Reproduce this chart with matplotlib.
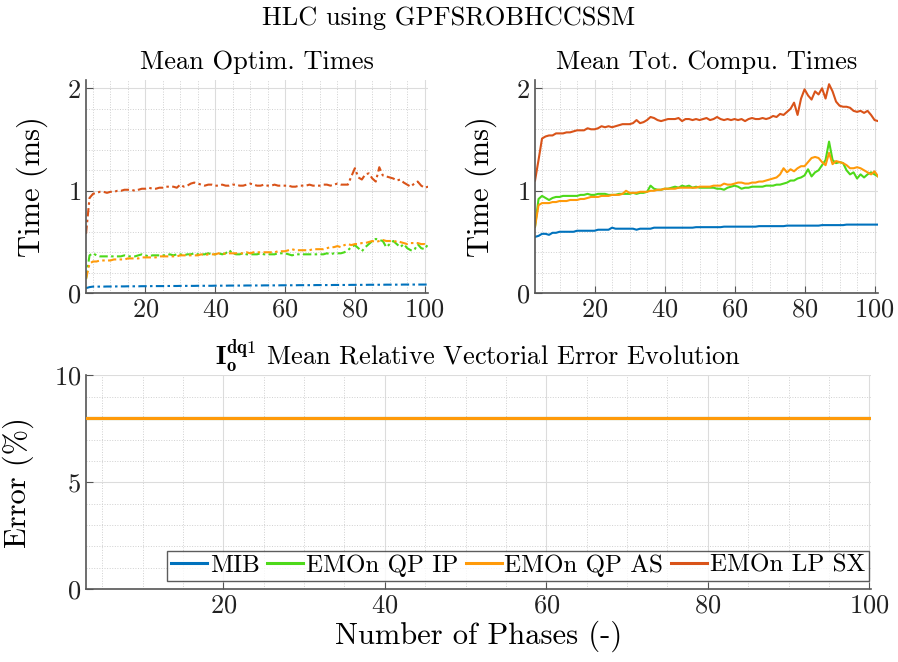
import matplotlib
matplotlib.use("Agg")
from matplotlib import pyplot as plt
from matplotlib.ticker import MultipleLocator
import numpy as np

plt.rcParams['font.family'] = 'serif'
plt.rcParams['font.serif'] = ['cmr10']
plt.rcParams['mathtext.fontset'] = 'cm'
plt.rcParams['axes.formatter.use_mathtext'] = True

phases = list(range(3, 102))
labels = ['MIB', 'EMOn QP IP', 'EMOn QP AS', 'EMOn LP SX']
colors = ['#0072BD', '#4DD91A', '#FF9A0A', '#D95319']

# mean optimisation times (ms)
optim_mib = [0.05, 0.06, 0.065, 0.065, 0.065, 0.065, 0.066, 0.066, 0.066, 0.067,
             0.067, 0.067, 0.068, 0.068, 0.068, 0.068, 0.069, 0.069, 0.069, 0.07,
             0.07, 0.07, 0.07, 0.071, 0.071, 0.071, 0.071, 0.072, 0.072, 0.072,
             0.072, 0.072, 0.073, 0.073, 0.073, 0.073, 0.073, 0.074, 0.074, 0.074,
             0.074, 0.075, 0.075, 0.075, 0.075, 0.075, 0.076, 0.076, 0.076, 0.076,
             0.076, 0.077, 0.077, 0.077, 0.077, 0.077, 0.078, 0.078, 0.078, 0.078,
             0.078, 0.079, 0.079, 0.079, 0.079, 0.079, 0.08, 0.08, 0.08, 0.08,
             0.08, 0.081, 0.081, 0.081, 0.081, 0.081, 0.082, 0.082, 0.082, 0.082,
             0.082, 0.083, 0.083, 0.083, 0.083, 0.083, 0.084, 0.084, 0.084, 0.084,
             0.084, 0.085, 0.085, 0.085, 0.085, 0.085, 0.085, 0.085, 0.085]
optim_ip = [0.14, 0.37, 0.39, 0.37, 0.36, 0.36, 0.36, 0.36, 0.36, 0.36,
            0.36, 0.37, 0.36, 0.36, 0.36, 0.37, 0.38, 0.37,
            0.36, 0.37, 0.37, 0.37, 0.37, 0.37, 0.38, 0.37, 0.38, 0.38,
            0.37, 0.38, 0.38, 0.39, 0.38, 0.38, 0.38, 0.39, 0.38, 0.38,
            0.39, 0.38, 0.39, 0.42, 0.39, 0.38, 0.38, 0.39, 0.38, 0.38,
            0.38, 0.38, 0.39, 0.38, 0.38, 0.38, 0.38, 0.39, 0.39, 0.39,
            0.38, 0.37, 0.38, 0.38, 0.38, 0.38, 0.38, 0.38, 0.38, 0.38,
            0.38, 0.39, 0.38, 0.39, 0.39, 0.39, 0.40, 0.42, 0.45, 0.47,
            0.44, 0.41, 0.45, 0.48, 0.51, 0.53, 0.52, 0.51, 0.45, 0.48,
            0.51, 0.48, 0.45, 0.48, 0.44, 0.42, 0.42, 0.48, 0.44, 0.43, 0.48]
optim_as = [0.14, 0.29, 0.31, 0.31, 0.32, 0.32, 0.32, 0.32, 0.33, 0.33,
            0.33, 0.33, 0.34, 0.34, 0.34, 0.34, 0.35, 0.35,
            0.35, 0.35, 0.35, 0.36, 0.36, 0.36, 0.36, 0.36, 0.36, 0.37,
            0.37, 0.37, 0.37, 0.37, 0.37, 0.38, 0.37, 0.38, 0.38, 0.38,
            0.39, 0.38, 0.39, 0.39, 0.39, 0.39, 0.39, 0.39, 0.40, 0.39,
            0.40, 0.40, 0.40, 0.40, 0.40, 0.40, 0.40, 0.41, 0.41, 0.41,
            0.42, 0.43, 0.42, 0.42, 0.42, 0.42, 0.42, 0.43, 0.43, 0.43,
            0.43, 0.44, 0.45, 0.45, 0.46, 0.45, 0.47, 0.48, 0.47, 0.48,
            0.48, 0.49, 0.49, 0.50, 0.51, 0.50, 0.51, 0.52, 0.51, 0.51,
            0.50, 0.51, 0.50, 0.49, 0.48, 0.49, 0.49, 0.49, 0.48, 0.48, 0.47]
optim_sx = [0.58, 0.93, 0.97, 0.98, 0.99, 0.99, 0.98, 0.99, 0.99, 1.00,
            1.00, 1.01, 1.01, 1.01, 1.00, 1.01, 1.02, 1.02,
            1.03, 1.02, 1.02, 1.03, 1.03, 1.04, 1.04, 1.04, 1.03, 1.06,
            1.04, 1.05, 1.07, 1.08, 1.07, 1.06, 1.05, 1.06, 1.06, 1.05,
            1.05, 1.06, 1.05, 1.05, 1.06, 1.06, 1.05, 1.05, 1.06, 1.07,
            1.06, 1.05, 1.05, 1.06, 1.05, 1.05, 1.06, 1.05, 1.05, 1.05,
            1.05, 1.04, 1.04, 1.05, 1.05, 1.05, 1.06, 1.05, 1.05, 1.05,
            1.06, 1.06, 1.05, 1.06, 1.07, 1.06, 1.06, 1.06, 1.14, 1.22,
            1.13, 1.11, 1.16, 1.17, 1.12, 1.09, 1.23, 1.15, 1.14, 1.13,
            1.12, 1.10, 1.11, 1.08, 1.06, 1.04, 1.07, 1.09, 1.05, 1.03, 1.04]

# mean total computation times (ms)
total_mib = [0.55, 0.56, 0.58, 0.58, 0.57, 0.59, 0.59, 0.60, 0.60, 0.60,
             0.60, 0.60, 0.61, 0.61, 0.61, 0.61, 0.61, 0.61,
             0.62, 0.62, 0.62, 0.62, 0.64, 0.63, 0.63, 0.63, 0.63, 0.63,
             0.63, 0.62, 0.63, 0.63, 0.63, 0.63, 0.64, 0.64, 0.64, 0.64,
             0.64, 0.64, 0.64, 0.64, 0.64, 0.64, 0.64, 0.64, 0.645, 0.645,
             0.645, 0.645, 0.645, 0.645, 0.645, 0.645, 0.65, 0.65, 0.65, 0.65,
             0.65, 0.65, 0.65, 0.65, 0.65, 0.65, 0.655, 0.655, 0.655, 0.655,
             0.655, 0.655, 0.655, 0.655, 0.66, 0.66, 0.66, 0.66, 0.66, 0.66,
             0.66, 0.66, 0.66, 0.66, 0.665, 0.665, 0.665, 0.665, 0.665, 0.665,
             0.665, 0.67, 0.67, 0.67, 0.67, 0.67, 0.67, 0.67, 0.67, 0.67, 0.67]
total_ip = [0.65, 0.92, 0.95, 0.93, 0.91, 0.93, 0.94, 0.94, 0.95, 0.95,
            0.95, 0.95, 0.95, 0.96, 0.96, 0.97, 0.96, 0.96,
            0.97, 0.97, 0.97, 0.96, 0.96, 0.96, 0.97, 0.97, 0.97, 0.97,
            0.98, 0.97, 0.98, 0.98, 0.99, 1.05, 1.02, 1.01, 1.01, 1.02,
            1.02, 1.03, 1.04, 1.03, 1.05, 1.04, 1.05, 1.03, 1.04, 1.03,
            1.03, 1.03, 1.03, 1.03, 1.02, 1.02, 1.01, 1.03, 1.04, 1.05,
            1.04, 1.02, 1.03, 1.03, 1.04, 1.04, 1.04, 1.04, 1.05, 1.05,
            1.05, 1.06, 1.06, 1.07, 1.08, 1.10, 1.10, 1.12, 1.13, 1.15,
            1.21, 1.14, 1.18, 1.20, 1.25, 1.30, 1.48, 1.30, 1.27, 1.28,
            1.27, 1.20, 1.16, 1.18, 1.12, 1.16, 1.13, 1.16, 1.18, 1.16, 1.14]
total_as = [0.65, 0.86, 0.88, 0.88, 0.88, 0.89, 0.89, 0.90, 0.90, 0.90,
            0.91, 0.91, 0.91, 0.92, 0.92, 0.93, 0.94, 0.94,
            0.94, 0.95, 0.95, 0.95, 0.96, 0.96, 0.96, 0.97, 1.00, 0.98,
            0.98, 0.98, 0.99, 0.99, 0.99, 1.00, 1.00, 1.01, 1.01, 1.02,
            1.02, 1.02, 1.02, 1.03, 1.03, 1.03, 1.03, 1.03, 1.03, 1.04,
            1.04, 1.04, 1.04, 1.05, 1.05, 1.05, 1.07, 1.06, 1.06, 1.07,
            1.08, 1.08, 1.07, 1.07, 1.08, 1.08, 1.09, 1.09, 1.10, 1.11,
            1.12, 1.13, 1.16, 1.22, 1.18, 1.21, 1.19, 1.22, 1.24, 1.24,
            1.28, 1.32, 1.33, 1.32, 1.28, 1.25, 1.37, 1.26, 1.29, 1.28,
            1.27, 1.25, 1.22, 1.22, 1.23, 1.22, 1.20, 1.18, 1.16, 1.19, 1.14]
total_sx = [1.10, 1.30, 1.51, 1.53, 1.54, 1.54, 1.56, 1.56, 1.56, 1.57,
            1.57, 1.58, 1.59, 1.59, 1.59, 1.61, 1.60, 1.60,
            1.61, 1.63, 1.62, 1.63, 1.62, 1.63, 1.64, 1.65, 1.65, 1.65,
            1.66, 1.69, 1.66, 1.67, 1.69, 1.72, 1.71, 1.69, 1.68, 1.69,
            1.70, 1.70, 1.70, 1.71, 1.68, 1.70, 1.70, 1.69, 1.70, 1.69,
            1.70, 1.71, 1.69, 1.70, 1.72, 1.70, 1.69, 1.70, 1.69, 1.70,
            1.69, 1.70, 1.68, 1.70, 1.71, 1.70, 1.70, 1.71, 1.70, 1.71,
            1.73, 1.72, 1.75, 1.74, 1.77, 1.80, 1.86, 1.74, 1.90, 1.99,
            1.93, 1.89, 1.97, 1.94, 2.00, 1.90, 2.04, 1.97, 1.87, 1.83,
            1.82, 1.82, 1.81, 1.78, 1.77, 1.78, 1.76, 1.78, 1.74, 1.69, 1.68]

# mean relative vectorial error (%)
err_mib = [8.0] * len(phases)
err_ip = [8.0] * len(phases)
err_as = [8.0] * len(phases)
err_sx = [8.0] * len(phases)

optim = [optim_mib, optim_ip, optim_as, optim_sx]
total = [total_mib, total_ip, total_as, total_sx]
error = [err_mib, err_ip, err_as, err_sx]


def style_axis(ax, ymax, ymajor, yminor, xmax):
    ax.set_xlim(3, xmax)
    ax.set_ylim(0, ymax)
    ax.xaxis.set_major_locator(MultipleLocator(20))
    ax.xaxis.set_minor_locator(MultipleLocator(5))
    ax.yaxis.set_major_locator(MultipleLocator(ymajor))
    ax.yaxis.set_minor_locator(MultipleLocator(yminor))
    ax.grid(which='major', color='#dcdcdc', linewidth=0.8)
    ax.grid(which='minor', color='#d0d0d0', linestyle=':', linewidth=0.7)
    ax.set_axisbelow(True)
    ax.spines['top'].set_visible(False)
    ax.spines['right'].set_visible(False)
    ax.spines['left'].set_color('#555555')
    ax.spines['bottom'].set_color('#555555')
    ax.spines['left'].set_linewidth(1.2)
    ax.spines['bottom'].set_linewidth(1.2)
    ax.tick_params(which='both', direction='in', labelsize=19, colors='#555555',
                   labelcolor='#222222', top=False, right=False)
    ax.tick_params(which='major', length=5)
    ax.tick_params(which='minor', length=0)


fig = plt.figure(figsize=(8.98, 6.62), dpi=100)
ax1 = fig.add_axes([0.0958, 0.557, 0.381, 0.322])
ax2 = fig.add_axes([0.5958, 0.557, 0.382, 0.322])
ax3 = fig.add_axes([0.0958, 0.110, 0.874, 0.323])

for i in range(4):
    ax1.plot(phases, optim[i], '-', color=colors[i], linewidth=1.5,
             dashes=[4, 1.6, 1.2, 1.6])
    ax2.plot(phases, total[i], '-', color=colors[i], linewidth=1.5)

# orange drawn last so it sits on top of the overlapping error lines
err_z = [3, 4, 6, 5]
for i in range(4):
    ax3.plot(phases, error[i], '-', color=colors[i], linewidth=2.2,
             label=labels[i], zorder=err_z[i])

style_axis(ax1, 2.08, 1, 0.2, 101)
style_axis(ax2, 2.08, 1, 0.2, 101)
style_axis(ax3, 10, 5, 1, 100.2)

ax1.set_title('Mean Optim. Times', fontsize=19, pad=8)
ax2.set_title('Mean Tot. Compu. Times', fontsize=19, pad=8)
ax1.set_ylabel('Time (ms)', fontsize=22, labelpad=14)
ax2.set_ylabel('Time (ms)', fontsize=22, labelpad=14)
ax3.set_title(r'$\mathbf{I_o^{dq1}}$ Mean Relative Vectorial Error Evolution',
              fontsize=19, pad=6)
ax3.set_ylabel('Error (%)', fontsize=22, labelpad=14)
ax3.set_xlabel('Number of Phases (-)', fontsize=22, labelpad=2)

leg = ax3.legend(loc='lower right', bbox_to_anchor=(0.997, 0.04), ncol=4,
                 fontsize=18, frameon=True, fancybox=False,
                 edgecolor='#333333', handlelength=1.45, handletextpad=0.1,
                 columnspacing=0.3, borderpad=0.15, borderaxespad=0.0)
leg.get_frame().set_linewidth(1.0)

fig.suptitle('HLC using GPFSROBHCCSSM', fontsize=19, y=0.99)

fig.savefig('out.png', dpi=100)
